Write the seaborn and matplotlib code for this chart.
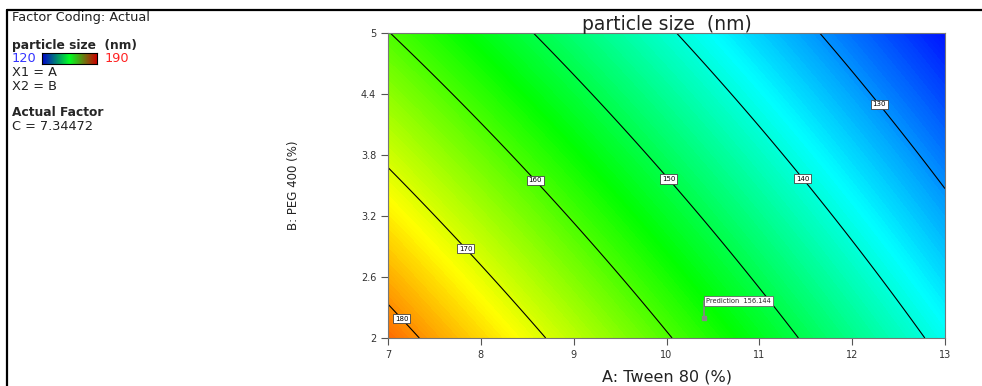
import numpy as np
import matplotlib
matplotlib.use("Agg")
import matplotlib.pyplot as plt
from matplotlib.lines import Line2D
import seaborn as sns

# ---- data ----
x_ticks = [7, 8, 9, 10, 11, 12, 13]
y_ticks = [2, 2.6, 3.2, 3.8, 4.4, 5]
y_tick_labels = ["2", "2.6", "3.2", "3.8", "4.4", "5"]
contour_levels = [130, 140, 150, 160, 170, 180]
# fitted response surface: size = b0 + bA*A + bB*B + bAB*A*B
b0 = 252.8
bA = -7.92
bB = -9.45
bAB = 0.287
color_min, color_max = 120, 190
label_positions = [(7.17, 2.21), (7.86, 2.90), (8.61, 3.57), (10.03, 3.57),
                   (11.47, 3.57), (12.28, 4.29)]
pred_A, pred_B = 10.40, 2.20
pred_value = "156.144"
actual_C = "7.34472"

sns.set_theme(style="white")
plt.rcParams['font.family'] = ['DejaVu Sans']

fig = plt.figure(figsize=(9.82, 3.86), dpi=100)
ax = fig.add_axes([388/982, 1-338/386, (945-388)/982, (338-33)/386])

A = np.linspace(7, 13, 300)
B = np.linspace(2, 5, 300)
AA, BB = np.meshgrid(A, B)
Z = b0 + bA*AA + bB*BB + bAB*AA*BB

cmap = sns.blend_palette(["#0000ff", "#00ffff", "#00ff00", "#ffff00", "#ff0000"], as_cmap=True)
ax.contourf(AA, BB, Z, levels=np.linspace(color_min, color_max, 200), cmap=cmap,
            vmin=color_min, vmax=color_max, extend="both")
cs = ax.contour(AA, BB, Z, levels=contour_levels, colors="black", linewidths=0.8)
texts = ax.clabel(cs, inline=False, fontsize=5, fmt="%d", manual=label_positions)
for t in texts:
    t.set_rotation(0)
    t.set_bbox(dict(facecolor="white", edgecolor="#444444", boxstyle="square,pad=0.25", lw=0.6))
    t.set_zorder(10)

# prediction flag
ax.plot([pred_A, pred_A], [pred_B, pred_B + 0.16], color="#888888", lw=1.2, zorder=9)
ax.plot([pred_A], [pred_B], marker="s", ms=2.5, color="#888888", zorder=9)
ax.text(pred_A + 0.03, pred_B + 0.16, "Prediction  " + pred_value, fontsize=4.8,
        ha="left", va="center", zorder=10,
        bbox=dict(facecolor="white", edgecolor="#666666", boxstyle="square,pad=0.3", lw=0.6))

ax.set_xlim(7, 13)
ax.set_ylim(2, 5)
ax.set_xticks(x_ticks)
ax.set_xticklabels([str(v) for v in x_ticks])
ax.set_yticks(y_ticks)
ax.set_yticklabels(y_tick_labels)
ax.tick_params(axis="both", direction="out", length=5, width=0.8, colors="#555555",
               labelsize=7, labelcolor="#333333", bottom=True, left=True)
for s in ax.spines.values():
    s.set_color("#777777")
    s.set_linewidth(0.8)

ax.set_title("particle size  (nm)", fontsize=13.5, pad=2, color="#222222")
ax.set_xlabel("A: Tween 80 (%)", fontsize=11.5, labelpad=7, color="#222222")
ax.set_ylabel("B: PEG 400 (%)", fontsize=8.5, labelpad=44, color="#222222")

# left-hand legend text
fs = 9.3
fsb = 8.8
fig.text(12/982, 1-18/386, "Factor Coding: Actual", fontsize=fs, va="center", color="#222222")
fig.text(12/982, 1-46/386, "particle size  (nm)", fontsize=fsb, fontweight="bold", va="center")
fig.text(12/982, 1-59/386, "120", fontsize=fs, va="center", color="#3333ff")
fig.text(105/982, 1-59/386, "190", fontsize=fs, va="center", color="#ff2222")
fig.text(12/982, 1-73/386, "X1 = A", fontsize=fs, va="center", color="#222222")
fig.text(12/982, 1-87/386, "X2 = B", fontsize=fs, va="center", color="#222222")
fig.text(12/982, 1-113/386, "Actual Factor", fontsize=fsb, fontweight="bold", va="center")
fig.text(12/982, 1-127/386, "C = " + actual_C, fontsize=fs, va="center", color="#222222")

cax = fig.add_axes([42/982, 1-64/386, 55/982, 11/386])
grad = np.linspace(color_min, color_max, 256).reshape(1, -1)
cax.imshow(grad, aspect="auto", cmap=sns.blend_palette(["#0000cc", "#00ff22", "#cc0000"], as_cmap=True))
cax.set_xticks([]); cax.set_yticks([])
for s in cax.spines.values():
    s.set_color("black"); s.set_linewidth(0.8)

# figure frame lines
fig.add_artist(Line2D([7/982, 1], [1-10/386, 1-10/386], color="black", lw=1.6))
fig.add_artist(Line2D([7/982, 7/982], [0, 1-10/386], color="black", lw=1.6))

fig.savefig("out.png", dpi=100)
